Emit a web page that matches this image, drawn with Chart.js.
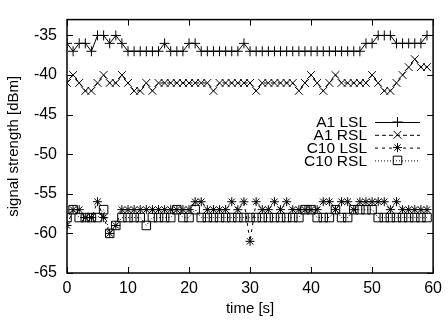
<!DOCTYPE html>
<html>
<head>
<meta charset="utf-8">
<script src="https://cdn.jsdelivr.net/npm/chart.js@4.4.1/dist/chart.umd.min.js"></script>
<style>
  html, body { margin: 0; padding: 0; background: #fff; }
  #chart { display: block; }
</style>
</head>
<body>
<canvas id="chart" width="448" height="321"></canvas>
<script>
// time axis, one sample per second
const times = [];
for (let t = 0; t < 60; t++) times.push(t);

// signal strength readings [dBm]
const a1Lsl = [
  -36, -37, -36, -36, -37, -35, -35, -36, -35, -36,
  -37, -37, -37, -37, -37, -37, -36, -37, -37, -37,
  -36, -36, -37, -37, -37, -37, -37, -37, -37, -36,
  -37, -37, -37, -37, -37, -37, -37, -37, -37, -37,
  -37, -37, -37, -37, -37, -37, -37, -37, -37, -36,
  -36, -35, -35, -35, -36, -36, -36, -36, -36, -35
];
const a1Rsl = [
  -41, -40, -41, -42, -42, -41, -40, -41, -41, -40,
  -41, -42, -42, -41, -42, -41, -41, -41, -41, -41,
  -41, -41, -41, -41, -42, -41, -41, -41, -41, -41,
  -41, -42, -41, -41, -41, -41, -41, -41, -42, -41,
  -40, -41, -42, -41, -40, -41, -41, -41, -41, -41,
  -40, -41, -42, -42, -41, -40, -39, -38, -39, -39
];
const c10Lsl = [
  -59, -57, -57, -58, -58, -56, -58, -60, -59, -57,
  -57, -57, -57, -57, -57, -57, -57, -57, -57, -57,
  -57, -56, -56, -57, -57, -57, -57, -56, -57, -56,
  -61, -56, -57, -57, -56, -57, -56, -57, -57, -57,
  -57, -57, -56, -56, -57, -56, -56, -57, -56, -56,
  -56, -56, -56, -57, -56, -57, -57, -57, -57, -57
];
const c10Rsl = [
  -58, -57, -58, -58, -58, -58, -57, -60, -59, -58,
  -58, -58, -58, -59, -58, -58, -58, -58, -57, -58,
  -58, -57, -58, -58, -58, -58, -58, -58, -58, -58,
  -58, -58, -58, -58, -58, -58, -58, -58, -58, -57,
  -57, -58, -58, -58, -57, -58, -58, -57, -57, -57,
  -57, -58, -58, -58, -58, -58, -58, -58, -58, -58
];

const seriesNames = ["A1 LSL", "A1 RSL", "C10 LSL", "C10 RSL"];

const FONT = '"Liberation Sans", Arial, sans-serif';
Chart.defaults.font.family = FONT;
Chart.defaults.font.size = 15;
Chart.defaults.color = "#000";

const toPoints = (vals) => vals.map((v, i) => ({ x: times[i], y: v }));

const styles = [
  { pointStyle: "cross", radius: 5, dash: [] },
  { pointStyle: "crossRot", radius: 5.5, dash: [4, 3] },
  { pointStyle: "star", radius: 4.5, dash: [3, 4] },
  { pointStyle: "rect", radius: 6, dash: [1, 2] }
];
const series = [a1Lsl, a1Rsl, c10Lsl, c10Rsl];

const datasets = series.map((vals, i) => ({
  label: seriesNames[i],
  data: toPoints(vals),
  borderColor: "#000",
  backgroundColor: "rgba(0,0,0,0)",
  borderWidth: 1,
  borderDash: styles[i].dash,
  pointStyle: styles[i].pointStyle,
  pointRadius: styles[i].radius,
  pointBorderWidth: 1,
  pointBorderColor: "#000",
  pointBackgroundColor: "rgba(0,0,0,0)",
  tension: 0
}));

// small marker drawer for the hand-made legend
function drawMarker(ctx, style, x, y, r) {
  ctx.beginPath();
  if (style === "cross" || style === "star") {
    ctx.moveTo(x, y - r); ctx.lineTo(x, y + r);
    ctx.moveTo(x - r, y); ctx.lineTo(x + r, y);
  }
  if (style === "crossRot" || style === "star") {
    const d = r * Math.SQRT1_2;
    ctx.moveTo(x - d, y - d); ctx.lineTo(x + d, y + d);
    ctx.moveTo(x - d, y + d); ctx.lineTo(x + d, y - d);
  }
  if (style === "rect") {
    const h = r * Math.SQRT1_2;
    ctx.rect(x - h, y - h, 2 * h, 2 * h);
  }
  ctx.stroke();
}

// gnuplot-like frame, inward ticks and legend
const framePlugin = {
  id: "frame",
  afterDatasetsDraw(chart) {
    const { ctx, chartArea: a, scales } = chart;
    ctx.save();
    ctx.strokeStyle = "#000";
    ctx.lineWidth = 1;
    ctx.setLineDash([]);
    const tl = 6;
    ctx.beginPath();
    scales.x.ticks.forEach(t => {
      const px = Math.round(scales.x.getPixelForValue(t.value)) + 0.5;
      ctx.moveTo(px, a.bottom); ctx.lineTo(px, a.bottom - tl);
      ctx.moveTo(px, a.top); ctx.lineTo(px, a.top + tl);
    });
    scales.y.ticks.forEach(t => {
      const py = Math.round(scales.y.getPixelForValue(t.value)) + 0.5;
      ctx.moveTo(a.left, py); ctx.lineTo(a.left + tl, py);
      ctx.moveTo(a.right, py); ctx.lineTo(a.right - tl, py);
    });
    ctx.stroke();
    ctx.lineWidth = 1.5;
    ctx.strokeRect(a.left, a.top, a.right - a.left, a.bottom - a.top);

    // legend: text on the left, sample line on the right
    ctx.font = "15.5px " + FONT;
    ctx.fillStyle = "#000";
    ctx.textAlign = "right";
    ctx.textBaseline = "middle";
    const textX = 367, lineX0 = 375, lineX1 = 420, rowY0 = 122, rowStep = 12.8;
    chart.data.datasets.forEach((ds, i) => {
      const y = rowY0 + i * rowStep;
      ctx.fillText(ds.label, textX, y + 1);
      ctx.lineWidth = 1;
      ctx.setLineDash(ds.borderDash);
      ctx.beginPath();
      ctx.moveTo(lineX0, y + 0.5); ctx.lineTo(lineX1, y + 0.5);
      ctx.stroke();
      ctx.setLineDash([]);
      drawMarker(ctx, ds.pointStyle, (lineX0 + lineX1) / 2, y, ds.pointRadius);
    });
    ctx.restore();
  }
};

new Chart(document.getElementById("chart"), {
  type: "line",
  data: { datasets: datasets },
  options: {
    responsive: false,
    devicePixelRatio: 1,
    animation: false,
    layout: { padding: { top: 10, right: 11, left: 0, bottom: 0 } },
    plugins: { legend: { display: false }, tooltip: { enabled: false } },
    scales: {
      x: {
        type: "linear",
        min: 0,
        max: 60,
        grid: { display: false, drawTicks: false },
        border: { display: false },
        ticks: { stepSize: 10, padding: 6, maxRotation: 0, font: { size: 16 } },
        title: { display: true, text: "time [s]", padding: { top: 4, bottom: 3 } },
        afterFit: (scale) => { scale.height = 48; }
      },
      y: {
        min: -65,
        max: -33,
        grid: { display: false, drawTicks: false },
        border: { display: false },
        ticks: { stepSize: 5, padding: 10, includeBounds: false, font: { size: 16 } },
        title: { display: true, text: "signal strength [dBm]", padding: { top: 5, bottom: 0 } },
        afterFit: (scale) => { scale.width = 67; }
      }
    }
  },
  plugins: [framePlugin]
});
</script>
</body>
</html>
